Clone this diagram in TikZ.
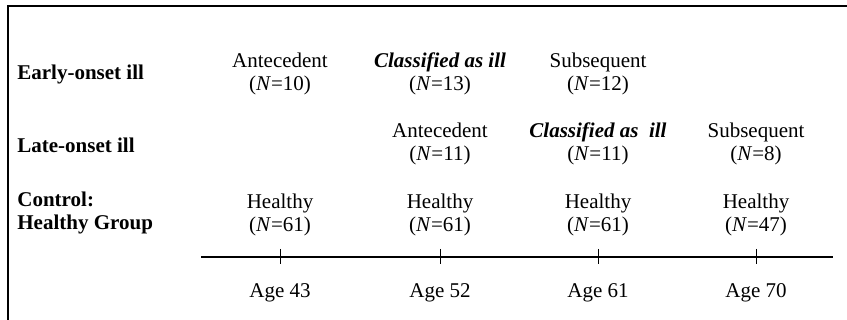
\documentclass[tikz,border=0pt]{standalone}
\usepackage{fontspec}
\setmainfont{Liberation Serif}
\usepackage{tikz}
\tikzset{
    row-label/.style = {anchor=west, align=left, inner sep=0pt, font=\fontsize{10.5}{11.5}\selectfont\bfseries},
    cell/.style = {align=center, inner sep=0pt, font=\fontsize{10.5}{11.7}\selectfont},
    age-label/.style = {inner sep=0pt, font=\fontsize{10.5}{11.7}\selectfont},
    frame-line/.style = {line width=0.75pt},
    axis-line/.style = {line width=0.9pt},
    tick-mark/.style = {line width=0.4pt},
}
\newcommand{\illhead}[1]{{\bfseries\itshape #1}}

\begin{document}
\begin{tikzpicture}[x=0.5pt,y=-0.5pt]
\useasboundingbox (0,0) rectangle (847,320);
% partial frame
\coordinate (frame-bottom) at (8,320);
\coordinate (frame-corner) at (8,6);
\coordinate (frame-right) at (847,6);
\draw[frame-line] (frame-bottom) -- (frame-corner) -- (frame-right);

% group labels
\node[row-label] (label-early) at (17,74) {Early-onset ill};
\node[row-label] (label-late) at (17,145) {Late-onset ill};
\node[row-label] (label-control) at (17,213) {Control:\\Healthy Group};

% early-onset row
\node[cell] (early-ante) at (280,74) {Antecedent\\(\textit{N}=10)};
\node[cell] (early-ill) at (440,74) {\illhead{Classified as ill}\\(\textit{N}=13)};
\node[cell] (early-subs) at (598,74) {Subsequent\\(\textit{N}=12)};

% late-onset row
\node[cell] (late-ante) at (440,144) {Antecedent\\(\textit{N}=11)};
\node[cell] (late-ill) at (598,144) {\illhead{Classified as~ ill}\\(\textit{N}=11)};
\node[cell] (late-subs) at (756,144) {Subsequent\\(\textit{N}=8)};

% healthy controls
\node[cell] (ctrl-43) at (280,215) {Healthy\\(\textit{N}=61)};
\node[cell] (ctrl-52) at (440,215) {Healthy\\(\textit{N}=61)};
\node[cell] (ctrl-61) at (598,215) {Healthy\\(\textit{N}=61)};
\node[cell] (ctrl-70) at (756,215) {Healthy\\(\textit{N}=47)};

% time axis
\coordinate (axis-start) at (201,257);
\coordinate (axis-end) at (833,257);
\draw[axis-line] (axis-start) -- (axis-end);

\node[age-label] (age-43) at (280,293) {Age 43};
\node[age-label] (age-52) at (440,293) {Age 52};
\node[age-label] (age-61) at (598,293) {Age 61};
\node[age-label] (age-70) at (756,293) {Age 70};

\draw[tick-mark] (age-43 |- axis-start) ++(0,-8) -- ++(0,15);
\draw[tick-mark] (age-52 |- axis-start) ++(0,-8) -- ++(0,15);
\draw[tick-mark] (age-61 |- axis-start) ++(0,-8) -- ++(0,15);
\draw[tick-mark] (age-70 |- axis-start) ++(0,-8) -- ++(0,15);
\end{tikzpicture}
\end{document}
